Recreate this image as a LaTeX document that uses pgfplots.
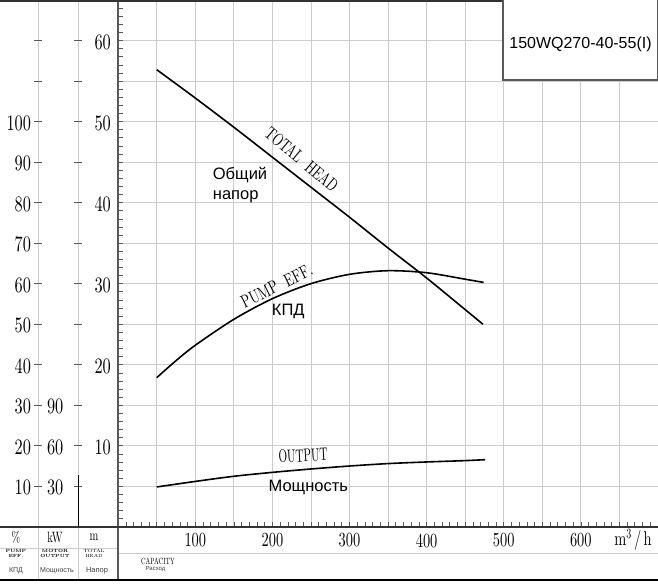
\documentclass[border=0pt]{standalone}
\usepackage{pgfplots}
\pgfplotsset{compat=1.18}
\usepackage{fontspec}
\usepackage{graphicx}
\newfontfamily\arial{Liberation Sans}
\newfontfamily\lmten{lmroman10-regular}[Extension=.otf]
\definecolor{gridc}{gray}{0.80}
\definecolor{axc}{gray}{0.35}
\newcommand\yl[1]{\scalebox{0.74}[1]{\lmten\fontsize{22}{22}\selectfont #1}}
\newcommand\xl[1]{\scalebox{0.72}[1]{\lmten\fontsize{20}{20}\selectfont #1}}
\newcommand\cs[3]{\scalebox{#2}[1]{\lmten\fontsize{#1}{#1}\selectfont #3}}

\pgfplotstableread{
x y
50 56.4
100 52.9
150 49.3
200 45.6
250 41.9
300 38.2
350 34.4
400 30.7
450 26.8
473 25.0
}\headtab
\pgfplotstableread{
x y
50 36.8
75 41.0
100 44.8
150 51.2
200 56.3
250 60.0
300 62.3
350 63.2
400 62.7
450 61.1
474 60.3
}\efftab
\pgfplotstableread{
x y
50 29.5
100 33.6
150 37.4
200 40.3
250 42.8
300 45.0
350 46.8
400 48.0
450 49.0
476 49.7
}\powtab

\begin{document}
\begin{tikzpicture}
\useasboundingbox (0,0) rectangle (658pt,584pt);
\fill[white] (0,0) rectangle (658pt,584pt);
% background table lines
\draw[gridc, line width=0.9pt] (38pt,4pt) -- (38pt,584pt);
\draw[gridc, line width=0.9pt] (78pt,4pt) -- (78pt,584pt);
\draw[gridc, line width=0.9pt] (0,35.7pt) -- (118.2pt,35.7pt);
\draw[gridc, line width=0.9pt] (118.2pt,30.5pt) -- (658pt,30.5pt);

% main axis (head, m)
\begin{axis}[
 at={(118.2pt,57.2pt)}, anchor=south west,
 scale only axis, width=539.7pt, height=526.8pt,
 xmin=0, xmax=700, ymin=0, ymax=65,
 axis lines=left, axis line style={-, draw=none},
 xtick={50,100,...,650},
 xticklabels={,\xl{100},,\xl{200},,\xl{300},,\xl{400},,\xl{500},,\xl{600},},
 ytick={5,10,...,60},
 yticklabels={,\yl{10},,\yl{20},,\yl{30},,\yl{40},,\yl{50},,\yl{60}},
 minor xtick={10,20,...,690},
 minor ytick={1,2,...,64},
 grid=major, major grid style={gridc, line width=0.9pt},
 tick align=inside, major tick length=4.5pt, minor tick length=4.5pt,
 tick style={axc, line width=0.6pt},
 xticklabel style={anchor=north, inner sep=0pt, yshift=-6.5pt},
 yticklabel style={anchor=east, inner sep=0pt, xshift=-7.2pt, yshift=-1.5pt},
]
\addplot[black, line width=1.6pt, smooth] table[x=x, y=y] {\headtab};
\end{axis}

% efficiency axis (%)
\begin{axis}[
 at={(38pt,57.2pt)}, anchor=south west,
 scale only axis, width=619.9pt, height=526.8pt,
 xmin=-104.0, xmax=700, ymin=0, ymax=130,
 axis x line=none, axis y line*=left, y axis line style={draw=none},
 xtick=\empty,
 ytick={10,20,...,120},
 yticklabels={\yl{10},\yl{20},\yl{30},\yl{40},\yl{50},\yl{60},\yl{70},\yl{80},\yl{90},\yl{100},,},
 tick align=center, major tick length=8pt, tick style={axc, line width=0.6pt},
 yticklabel style={anchor=east, inner sep=0pt, xshift=-2.8pt, yshift=-1.5pt},
 clip=false,
]
\addplot[black, line width=1.6pt, smooth] table[x=x, y=y] {\efftab};
\end{axis}

% power axis (kW)
\begin{axis}[
 at={(78pt,57.2pt)}, anchor=south west,
 scale only axis, width=579.9pt, height=526.8pt,
 xmin=-52.14, xmax=700, ymin=0, ymax=390,
 axis x line=none, axis y line*=left, y axis line style={draw=none},
 xtick=\empty,
 ytick={30,60,...,360},
 yticklabels={\yl{30},\yl{60},\yl{90},,,,,,,,,},
 tick align=center, major tick length=8pt, tick style={axc, line width=0.6pt},
 yticklabel style={anchor=east, inner sep=0pt, xshift=-10.5pt, yshift=-1.5pt},
 clip=false,
]
\addplot[black, line width=1.6pt, smooth] table[x=x, y=y] {\powtab};
\end{axis}

% dark frame lines
\draw[axc, line width=2pt] (118.2pt,4pt) -- (118.2pt,584pt);
\draw[black!80, line width=1.5pt] (0,57.2pt) -- (658pt,57.2pt);
\draw[black!80, line width=2pt] (0,583pt) -- (658pt,583pt);
\draw[black, line width=2pt] (0,4pt) -- (658pt,4pt);
\draw[black, line width=1pt] (78pt,57.2pt) -- (78pt,109pt);

% model box
\draw[axc, line width=1.3pt, fill=white] (503pt,504pt) rectangle (657.3pt,585pt);
\node[font=\arial\fontsize{16}{16}\selectfont, anchor=base] at (580.5pt,535.7pt) {150WQ270-40-55(I)};

% curve labels
\node[rotate=-40] at (301.7pt,424.7pt) {\cs{18}{0.7}{TOTAL\ \ HEAD}};
\node[anchor=base west, inner sep=0pt, font=\arial\fontsize{16.5}{16.5}\selectfont] at (212.7pt,404pt) {Общий};
\node[anchor=base west, inner sep=0pt, font=\arial\fontsize{16.5}{16.5}\selectfont] at (212.7pt,384pt) {напор};
\node[rotate=26] at (276.7pt,298pt) {\cs{18}{0.72}{PUMP\ \ EFF.}};
\node[anchor=base, inner sep=0pt, font=\arial\fontsize{16.5}{16.5}\selectfont] at (288.3pt,268pt) {КПД};
\node[rotate=3, anchor=base, inner sep=0pt] at (303.3pt,122.3pt) {\cs{18}{0.62}{OUTPUT}};
\node[anchor=base, inner sep=0pt, font=\arial\fontsize{16.5}{16.5}\selectfont] at (308.3pt,92.3pt) {Мощность};
\node at (633pt,44pt) {\xl{m\textsuperscript{3}\,/\,h}};

% table texts
\node at (16pt,47pt) {\cs{15}{0.7}{\%}};
\node at (55pt,47pt) {\cs{15}{0.7}{kW}};
\node at (94pt,47pt) {\cs{15}{0.7}{m}};
\node[align=center, inner sep=0pt, font=\bfseries\fontsize{4.5}{4.8}\selectfont] at (16pt,30.5pt) {PUMP\\EFF.};
\node[align=center, inner sep=0pt, font=\bfseries\fontsize{4.5}{4.8}\selectfont] at (55pt,30.5pt) {MOTOR\\OUTPUT};
\node[align=center, inner sep=0pt, font=\fontsize{4.5}{4.8}\selectfont] at (94pt,30.5pt) {TOTAL\\HEAD};
\node[font=\arial\fontsize{7}{7}\selectfont, text=black!75] at (16pt,13pt) {КПД};
\node[font=\arial\fontsize{7}{7}\selectfont, text=black!75] at (57pt,13pt) {Мощность};
\node[font=\arial\fontsize{7.5}{7.5}\selectfont, text=black!75] at (97pt,13pt) {Напор};
\node at (158pt,23pt) {\cs{9}{0.7}{CAPACITY}};
\node[font=\arial\fontsize{6}{6}\selectfont, text=black!75] at (155.5pt,15pt) {Расход};
\end{tikzpicture}
\end{document}
